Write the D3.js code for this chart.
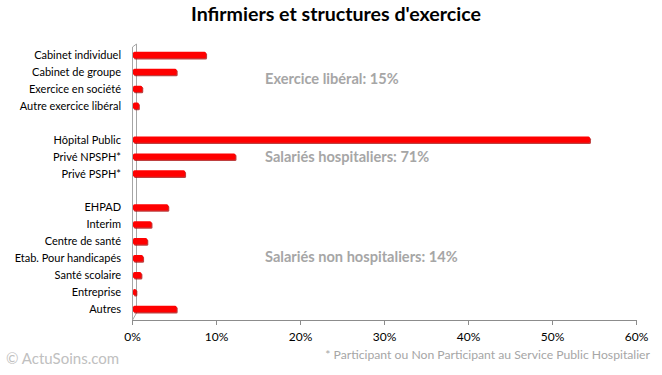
<!DOCTYPE html>
<html>
<head>
<meta charset="utf-8">
<script src="https://cdn.jsdelivr.net/npm/d3@7"></script>
<style>
  body { margin: 0; background: #fff; }
  svg { display: block; font-family: Lato, "Open Sans", sans-serif; }
</style>
</head>
<body>
<div id="chart"></div>
<script>
// data (share of nurses, %)
var categories = ["Cabinet individuel", "Cabinet de groupe", "Exercice en société", "Autre exercice libéral", "",
  "Hôpital Public", "Privé NPSPH*", "Privé PSPH*", " ",
  "EHPAD", "Interim", "Centre de santé", "Etab. Pour handicapés", "Santé scolaire", "Entreprise", "Autres"];
var values = [8.7, 5.2, 1.1, 0.7, null,
  54.4, 12.2, 6.2, null,
  4.2, 2.2, 1.7, 1.2, 1.0, 0.4, 5.2];
var tickValues = [0, 10, 20, 30, 40, 50, 60];
var groupLabels = ["Exercice libéral: 15%", "Salariés hospitaliers: 71%", "Salariés non hospitaliers: 14%"];
// row index where each group label sits (fractional = between rows)
var groupRows = [1.4, 6.05, 11.9];

var svgWidth = 662;
var svgHeight = 375;

var svg = d3.select("#chart")
  .append("svg")
  .attr("width", svgWidth)
  .attr("height", svgHeight);

var rows = categories.map(function (c, i) { return { name: c, value: values[i] }; });

// scales
var x = d3.scaleLinear()
  .domain([0, 60])
  .range([132, 636]);

var y = d3.scaleBand()
  .domain(categories)
  .range([46.5, 317.5])
  .paddingInner(0.62)
  .paddingOuter(0.31);

var rowPos = d3.scaleLinear()
  .domain([0, categories.length - 1])
  .range([y(categories[0]) + y.bandwidth() / 2, y(categories[categories.length - 1]) + y.bandwidth() / 2]);

// title
svg.append("text")
  .attr("x", 336)
  .attr("y", 21)
  .attr("text-anchor", "middle")
  .style("font-size", "19.6px")
  .style("font-weight", "bold")
  .style("fill", "#000")
  .text("Infirmiers et structures d'exercice");

// 3d wall
svg.append("path")
  .attr("d", "M132.5,320 L132.5,47 L136.5,44 L136.5,313 L132.5,320")
  .attr("fill", "none")
  .attr("stroke", "#a6a6a6")
  .attr("stroke-width", 1);

// x axis
var xAxis = d3.axisBottom(x)
  .tickValues(tickValues)
  .tickFormat(function (d) { return d + "%"; })
  .tickSize(5)
  .tickSizeOuter(0)
  .tickPadding(7);

var axisG = svg.append("g")
  .attr("transform", "translate(0, 320)")
  .call(xAxis);
axisG.select(".domain").attr("stroke", "#8c8c8c");
axisG.selectAll(".tick line").attr("stroke", "#8c8c8c");
axisG.selectAll(".tick text")
  .style("font-family", "Lato, sans-serif")
  .style("font-size", "12px")
  .style("fill", "#000");

// category labels
svg.append("g").selectAll("text")
  .data(rows.filter(function (d) { return d.value !== null; }))
  .enter()
  .append("text")
  .attr("x", 121)
  .attr("y", function (d) { return y(d.name) + y.bandwidth() / 2 + 4; })
  .attr("text-anchor", "end")
  .style("font-size", "11px")
  .style("fill", "#000")
  .text(function (d) { return d.name; });

var barData = rows.filter(function (d) { return d.value !== null; });

// bar shadows (3d edge)
svg.append("g").selectAll("rect")
  .data(barData)
  .enter()
  .append("rect")
  .attr("x", x(0) + 2)
  .attr("y", function (d) { return y(d.name) + 1.2; })
  .attr("width", function (d) { return x(d.value) - x(0); })
  .attr("height", y.bandwidth())
  .attr("rx", 1.5)
  .attr("fill", "#a80000")
  .attr("opacity", 0.75);

// bars
svg.append("g").selectAll("rect")
  .data(barData)
  .enter()
  .append("rect")
  .attr("x", x(0) + 1)
  .attr("y", function (d) { return y(d.name); })
  .attr("width", function (d) { return x(d.value) - x(0); })
  .attr("height", y.bandwidth())
  .attr("rx", 1.5)
  .attr("fill", "#ff0000");

// group annotations
svg.append("g").selectAll("text")
  .data(groupLabels)
  .enter()
  .append("text")
  .attr("x", 265)
  .attr("y", function (d, i) { return rowPos(groupRows[i]) + 5; })
  .style("font-size", "14.6px")
  .style("font-weight", "bold")
  .style("fill", "#a6a6a6")
  .text(function (d) { return d; });

// footnote
svg.append("text")
  .attr("x", 650)
  .attr("y", 359)
  .attr("text-anchor", "end")
  .style("font-size", "12.2px")
  .style("fill", "#a6a6a6")
  .text("* Participant ou Non Participant au Service Public Hospitalier");

// watermark
svg.append("text")
  .attr("x", 6)
  .attr("y", 364)
  .style("font-size", "15px")
  .style("fill", "#c0c0c0")
  .text("© ActuSoins.com");
</script>
</body>
</html>
